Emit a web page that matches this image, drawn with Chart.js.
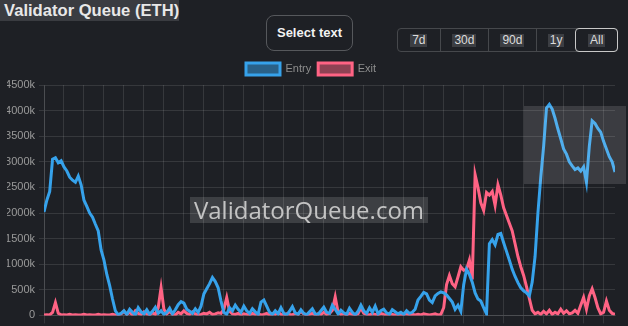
<!DOCTYPE html>
<html>
<head>
<meta charset="utf-8">
<script src="https://cdn.jsdelivr.net/npm/chart.js@4"></script>
<style>
  html, body { margin: 0; padding: 0; }
  body {
    width: 628px; height: 326px; overflow: hidden; position: relative;
    background: #1e2025; font-family: "Liberation Sans", Arial, sans-serif;
  }
  .title {
    position: absolute; left: 0; top: 0; height: 21px; width: 179px;
    background: #3a3c41; color: #e8e8e8; font-weight: bold; font-size: 16.6px;
    line-height: 21px; padding-left: 4px; box-sizing: border-box; white-space: nowrap;
  }
  .select-btn {
    position: absolute; left: 266px; top: 15px; width: 87px; height: 36px;
    box-sizing: border-box; border: 1px solid #56585c; border-radius: 8px;
    color: #f2f2f2; font-weight: bold; font-size: 13px; line-height: 34px; text-align: center;
  }
  .ranges {
    position: absolute; left: 397px; top: 28px; width: 221px; height: 24px;
    box-sizing: border-box; border: 1px solid #46484c; border-radius: 4px; display: flex;
  }
  .ranges div {
    position: relative; box-sizing: border-box; border-left: 1px solid #46484c;
    display: flex; align-items: center; justify-content: center;
    color: #dcdcdc; font-size: 12px;
  }
  .ranges div:first-child { border-left: none; }
  .ranges div span { background: #3c3e43; padding: 0 2px; line-height: 13px; }
  .ranges div.active { border: 1px solid #c8c8c8; border-radius: 4px; margin: -1px -1px -1px 0; }
  #wrap { position: absolute; left: 0; top: 56px; width: 628px; height: 270px; }
  .watermark {
    position: absolute; left: 190px; top: 197px; width: 238px; height: 26px;
    background: rgba(255,255,255,0.14); color: #c4c4c4;
    font-family: "Open Sans", sans-serif; font-size: 24px; line-height: 26px;
    text-align: center; white-space: nowrap;
  }
  .shade {
    position: absolute; left: 524px; top: 106px; width: 102px; height: 78px;
    background: rgba(255,255,255,0.13);
  }
</style>
</head>
<body>
<div class="title">Validator Queue (ETH)</div>
<div class="select-btn">Select text</div>
<div class="ranges">
  <div style="width:42px"><span>7d</span></div>
  <div style="width:49px"><span>30d</span></div>
  <div style="width:48px"><span>90d</span></div>
  <div style="width:40px"><span>1y</span></div>
  <div class="active" style="width:43px"><span>All</span></div>
</div>
<div id="wrap"><canvas id="queueChart"></canvas></div>
<div class="watermark">ValidatorQueue.com</div>
<div class="shade"></div>

<script>
/* ── DATA (thousands of ETH, one sample per step) ── */
const seriesNames = ['Entry', 'Exit'];

const entryQueue = [
    2020, 2250, 2420, 3050, 3080, 2980, 3020, 2900, 2820, 2700,
    2640, 2600, 2720, 2550, 2250, 2130, 2000, 1920, 1780, 1650,
    1280, 1080, 800, 580, 320, 90, 10,
    40, 90, 20, 120, 60, 10, 150, 70, 30, 110,
    20, 80, 160, 40, 90, 20, 60, 140, 30, 110,
    210, 270, 240, 120, 80, 40, 130, 60,
    180, 420, 520, 620, 740, 660, 540, 280, 60, 20,
    150, 90, 200, 120, 60, 180, 90, 40, 130, 70,
    20, 260, 300, 180, 60, 20, 90, 30, 150, 40,
    10, 80, 170, 50, 20, 110, 40, 10, 70, 130,
    30, 20, 90, 160, 60, 40, 200, 120, 30, 100,
    50, 20, 140, 60, 10, 80, 200, 90, 40, 150,
    60, 180, 30, 90, 120, 50, 20, 110, 70, 30,
    60, 20, 90, 40, 60, 120,
    300, 370, 450, 420, 300, 250, 380, 430, 460,
    440, 400, 330, 260, 120, 200, 80, 600, 900, 800,
    650, 440, 320, 280, 150, 30,
    1400, 1480, 1380, 1580, 1600, 1420, 1250, 1080, 900, 760,
    640, 540, 480, 440, 380, 650, 1150, 2000, 2700, 3300,
    4050, 4120, 4030, 3850, 3640, 3450, 3250, 3150, 3000, 2920,
    2850, 2880, 2820, 2900, 2600, 3300, 3800, 3750, 3650, 3580,
    3400, 3250, 3100, 3000, 2800
];

const exitQueue = [
    10, 15, 10, 60, 250, 40, 10, 15, 10, 20,
    10, 15, 10, 10, 20, 10, 15, 10, 10, 20,
    10, 15, 10, 10, 20, 10, 15,
    30, 80, 20, 60, 10, 90, 40, 20, 70, 30,
    10, 50, 20, 150, 540, 120, 30, 80, 20, 10,
    60, 30, 90, 40, 20, 70, 30, 10,
    20, 40, 30, 60, 20, 30, 50, 40, 120, 350,
    80, 30, 20, 40, 10, 30, 20, 10, 40, 20,
    30, 10, 20, 40, 10, 30, 20, 60, 20, 10,
    30, 20, 10, 40, 20, 80, 30, 10, 20, 40,
    10, 30, 20, 60, 20, 40, 100, 360, 60, 20,
    30, 10, 40, 20, 10, 30, 150, 40, 20, 10,
    30, 20, 10, 40, 20, 10, 30, 20, 10, 20,
    10, 20, 30, 10, 20, 10,
    20, 10, 30, 20, 10, 20, 30, 10, 20,
    150, 600, 780, 620, 560, 750, 950, 880, 900, 1080,
    700, 2750, 2500, 2200, 2050, 2400, 2350, 2420, 2150, 2550,
    2350, 2100, 1950, 1800, 1650, 1400, 1150, 950, 780, 560,
    330, 100, 30,
    60, 20, 80, 30, 100, 20, 60, 30, 120, 40,
    90, 30, 50, 100, 40, 200, 350, 120, 380, 520,
    350, 150, 30, 60, 280, 100, 40, 20
];

const yTicks = [0, 500, 1000, 1500, 2000, 2500, 3000, 3500, 4000, 4500];

/* ── CHART ──────────────────────────────────────── */
const gridColor = 'rgba(255,255,255,0.11)';
const toPoints = arr => arr.map((v, i) => ({ x: i, y: v }));

new Chart(document.getElementById('queueChart'), {
    type: 'line',
    data: {
        datasets: [{
            label: seriesNames[0],
            data: toPoints(entryQueue),
            borderColor: 'rgb(54,162,235)',
            backgroundColor: 'rgba(54,162,235,0.5)',
            borderWidth: 3,
            pointRadius: 0,
            tension: 0
        }, {
            label: seriesNames[1],
            data: toPoints(exitQueue),
            borderColor: 'rgb(255,99,132)',
            backgroundColor: 'rgba(255,99,132,0.5)',
            borderWidth: 3,
            pointRadius: 0,
            tension: 0
        }]
    },
    options: {
        responsive: true,
        maintainAspectRatio: false,
        animation: false,
        layout: { padding: { left: 7, right: 13, top: 0, bottom: 0 } },
        plugins: {
            tooltip: { enabled: false },
            legend: {
                position: 'top',
                labels: {
                    boxWidth: 34,
                    boxHeight: 12,
                    padding: 7,
                    color: '#8e8e8e',
                    font: { size: 11 }
                }
            }
        },
        scales: {
            x: {
                type: 'linear',
                min: 0,
                max: entryQueue.length - 1,
                ticks: { display: false, stepSize: 7, includeBounds: false, maxTicksLimit: 100 },
                grid: { color: gridColor, tickLength: 8 },
                border: { color: gridColor },
                afterFit: s => { s.height = 10; }
            },
            y: {
                min: yTicks[0],
                max: yTicks[yTicks.length - 1],
                ticks: {
                    stepSize: yTicks[1] - yTicks[0],
                    color: '#9a9a9a',
                    font: { size: 11 },
                    padding: 4,
                    callback: v => v === 0 ? '0' : v + 'k'
                },
                grid: { color: gridColor, tickLength: 5 },
                border: { color: gridColor },
                afterFit: s => { s.width = 37; }
            }
        }
    }
});
</script>
</body>
</html>
